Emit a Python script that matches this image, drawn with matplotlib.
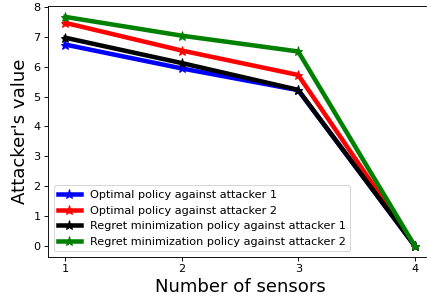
import matplotlib
matplotlib.use("Agg")
import matplotlib.pyplot as plt

sensors = [1, 2, 3, 4]
opt_att1 = [6.75, 5.95, 5.22, 0]
opt_att2 = [7.48, 6.55, 5.73, 0]
regret_att1 = [6.98, 6.13, 5.23, 0]
regret_att2 = [7.68, 7.05, 6.52, 0]

fig = plt.figure(figsize=(427 / 72, 301 / 72), dpi=72)
ax = fig.add_axes([48 / 427, 44 / 301, 384 / 427, 251.5 / 301])

s = 1.13
ax.plot(sensors, opt_att1, color="blue", linewidth=4 * s, marker="*", markersize=8 * s,
        label="Optimal policy against attacker 1")
ax.plot(sensors, opt_att2, color="red", linewidth=4 * s, marker="*", markersize=8 * s,
        label="Optimal policy against attacker 2")
ax.plot(sensors, regret_att1, color="black", linewidth=4 * s, marker="*", markersize=8 * s,
        label="Regret minimization policy against attacker 1")
ax.plot(sensors, regret_att2, color="green", linewidth=4 * s, marker="*", markersize=8 * s,
        label="Regret minimization policy against attacker 2")

ax.set_xticks(sensors)
ax.tick_params(labelsize=10 * s, length=3.5 * s, width=0.8 * s)
for sp in ax.spines.values():
    sp.set_linewidth(0.8 * s)
ax.set_xlabel("Number of sensors", fontsize=16 * s)
ax.set_ylabel("Attacker's value", fontsize=16 * s)
ax.legend(loc="lower left", fontsize=10 * s, handlelength=2)

fig.savefig("out.png", dpi=72)
